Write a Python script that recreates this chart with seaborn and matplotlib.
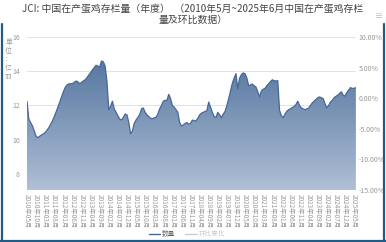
import numpy as np
import pandas as pd
import matplotlib
matplotlib.use("Agg")
import matplotlib.pyplot as plt
import seaborn as sns
from matplotlib.patches import Polygon
from matplotlib.colors import LinearSegmentedColormap

title = "JCI: 中国在产蛋鸡存栏量（年度）  （2010年5月~2025年6月中国在产蛋鸡存栏\n量及环比数据）"
unit_label = "单\n位\n：\n亿\n羽"
series_name = "数量"
hidden_series_name = "环比变化"

months = pd.period_range("2010-05", "2025-06", freq="M")
month_labels = [f"{p.year}年{p.month:02d}月" for p in months]

stock = [
    12.24, 11.2, 11.0, 10.8, 10.5, 10.2, 10.12, 10.2, 10.28, 10.33,
    10.42, 10.55, 10.7, 10.9, 11.1, 11.35, 11.62, 11.9, 12.2, 12.5,
    12.8, 13.05, 13.2, 13.26, 13.27, 13.27, 13.35, 13.43, 13.38, 13.27,
    13.35, 13.43, 13.5, 13.62, 13.78, 13.92, 14.08, 14.22, 14.35, 14.3,
    14.25, 14.6, 14.55, 14.3, 13.4, 11.75, 11.95, 12.25, 11.8, 11.6,
    11.4, 11.2, 11.15, 11.3, 11.5, 11.45, 11.0, 10.35, 10.5, 10.95,
    11.15, 11.3, 11.45, 11.8, 11.85, 11.6, 11.45, 11.35, 11.25, 11.22,
    11.28, 11.3, 11.5, 11.8, 12.0, 12.25, 12.3, 12.3, 12.65, 12.4,
    12.0, 11.9, 11.75, 11.6, 11.0, 10.8, 10.85, 10.95, 11.0, 10.9,
    10.95, 11.15, 11.1, 11.1, 11.25, 11.45, 11.55, 11.6, 11.65, 11.7,
    12.2, 11.9, 11.6, 11.35, 11.3, 11.6, 11.45, 11.28, 11.5, 11.65,
    12.0, 12.4, 12.85, 13.3, 13.6, 13.86, 12.98, 13.6, 13.8, 13.9,
    13.85, 13.6, 13.15, 13.2, 13.25, 13.15, 13.08, 12.8, 12.5, 12.85,
    12.95, 13.0, 13.15, 13.27, 13.4, 13.5, 13.45, 13.43, 13.45, 11.7,
    11.4, 11.28, 11.5, 11.66, 11.75, 11.8, 11.88, 11.94, 12.05, 12.25,
    12.0, 11.85, 11.8, 11.75, 11.8, 11.85, 12.0, 12.15, 12.25, 12.35,
    12.45, 12.5, 12.45, 12.4, 12.1, 11.86, 12.0, 12.2, 12.3, 12.45,
    12.53, 12.6, 12.7, 12.8, 12.6, 12.55, 12.75, 12.9, 13.04, 13.0,
    13.0, 13.04,
]

left_ticks = [8, 10, 12, 14, 16]
right_ticks = [10, 5, 0, -5, -10, -15]

df = pd.DataFrame({"idx": np.arange(len(stock)), "value": stock})

sns.set_theme(style="white")
plt.rcParams["font.family"] = ["Noto Sans CJK SC", "DejaVu Sans"]

fig = plt.figure(figsize=(3.86, 2.42), dpi=100)
ax = fig.add_axes([0.07, 0.215, 0.852, 0.632])

ymin, ymax = 7.06, 16
n = len(stock)

grad = np.linspace(0, 1, 256).reshape(-1, 1)
cmap = LinearSegmentedColormap.from_list("g", ["#afbfd6", "#56769f"])
im = ax.imshow(grad, aspect="auto", cmap=cmap, origin="lower",
               extent=[0, n - 1, ymin, 14.7], zorder=1)
verts = [(0, ymin)] + list(zip(df["idx"], df["value"])) + [(n - 1, ymin)]
poly = Polygon(verts, closed=True, facecolor="none", edgecolor="none")
ax.add_patch(poly)
im.set_clip_path(poly)

sns.lineplot(data=df, x="idx", y="value", ax=ax, color="#46679a", linewidth=0.9,
             zorder=3, legend=False)

ax.set_xlim(0, n - 1)
ax.set_ylim(ymin, ymax)
ax.set_yticks(left_ticks)
ax.set_yticklabels([str(t) for t in left_ticks])
for t in left_ticks:
    ax.axhline(t, color="#e2e2e2", linewidth=0.7, zorder=0.5)
ax.tick_params(axis="y", length=0, labelsize=5, labelcolor="#999999", pad=5)

xt = list(range(0, n, 5))
ax.set_xticks(xt)
ax.set_xticklabels([month_labels[i] for i in xt], rotation=-90, fontsize=4.6,
                   color="#999999")
ax.tick_params(axis="x", length=0, pad=3)
for s in ax.spines.values():
    s.set_visible(False)
ax.set_xlabel("")
ax.set_ylabel("")

ax2 = ax.twinx()
ax2.set_ylim(-15, 10)
ax2.set_yticks(right_ticks)
ax2.set_yticklabels([f"{t:.2f}%" for t in right_ticks])
ax2.tick_params(axis="y", length=0, labelsize=5, labelcolor="#999999", pad=2)
for s in ax2.spines.values():
    s.set_visible(False)
ax2.grid(False)

fig.text(0.5, 0.94, title, ha="center", va="center", fontsize=7.1,
         color="#444444", linespacing=1.1)
fig.text(0.022, 0.755, unit_label, ha="center", va="center", fontsize=4.8,
         color="#999999", linespacing=1.1)
fig.text(0.982, 0.93, "≡", ha="center", va="center", fontsize=6, color="#bbbbbb")

fig.lines.append(plt.Line2D([0.385, 0.415], [0.035, 0.035], transform=fig.transFigure,
                            color="#46679a", linewidth=1.0))
fig.text(0.42, 0.035, series_name, ha="left", va="center", fontsize=4.8, color="#666666")
fig.lines.append(plt.Line2D([0.48, 0.51], [0.035, 0.035], transform=fig.transFigure,
                            color="#cccccc", linewidth=1.0))
fig.text(0.515, 0.035, hidden_series_name, ha="left", va="center", fontsize=4.8,
         color="#cccccc")

for xs, ys in [([0.004, 0.004], [0.0, 0.9]), ([0.996, 0.996], [0.0, 0.9]),
               ([0.0, 1.0], [0.004, 0.004])]:
    fig.lines.append(plt.Line2D(xs, ys, transform=fig.transFigure,
                                color="#1e5b86", linewidth=1.6))

fig.savefig("out.png", dpi=100)
